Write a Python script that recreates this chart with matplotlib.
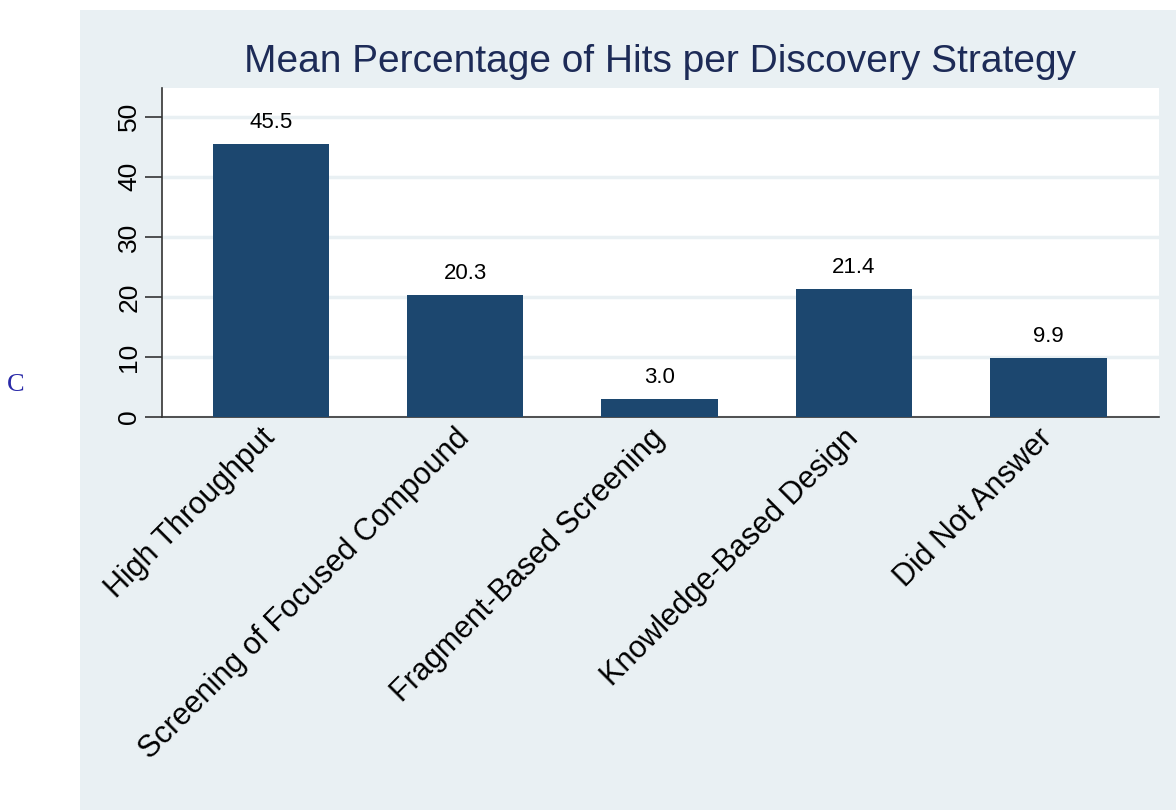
import matplotlib.pyplot as plt
from matplotlib.patches import Rectangle

categories = ["High Throughput", "Screening of Focused Compound",
              "Fragment-Based Screening", "Knowledge-Based Design", "Did Not Answer"]
values = [45.5, 20.3, 3.0, 21.4, 9.9]
yticks = [0, 10, 20, 30, 40, 50]

bar_color = "#1c476f"
panel_color = "#e9f0f3"
title_color = "#1d2b57"

plt.rcParams['font.family'] = ['Liberation Sans', 'DejaVu Sans']

fig = plt.figure(figsize=(11.76, 8.10), dpi=100)
fig.patch.set_facecolor("white")

# light panel behind the plot
fig.patches.append(Rectangle((80 / 1176, 0), 1 - 80 / 1176, 1 - 10 / 810,
                             transform=fig.transFigure, facecolor=panel_color,
                             edgecolor="none", zorder=-10))

ax = fig.add_axes([162 / 1176, 1 - 417 / 810, (1159 - 162) / 1176, (417 - 88) / 810])
ax.set_facecolor("white")

x = list(range(len(categories)))
ax.bar(x, values, width=0.6, color=bar_color, zorder=3)
for xi, v in zip(x, values):
    ax.text(xi, v + 1.8, f"{v:.1f}", ha="center", va="bottom", fontsize=16, color="black")

ax.set_xlim(-0.56, 4.57)
ax.set_ylim(0, 54.8)
ax.set_yticks(yticks)
ax.set_yticklabels([str(t) for t in yticks], rotation=90, va="center", fontsize=19)
ax.tick_params(axis="y", length=12, width=1.2, color="#333333", pad=3)
ax.grid(axis="y", color=panel_color, linewidth=2.5, zorder=1)

ax.set_xticks(x)
ax.set_xticklabels(categories, rotation=45, ha="right", va="center",
                   rotation_mode="anchor", fontsize=22)
ax.tick_params(axis="x", length=0, pad=12)

for side in ["top", "right"]:
    ax.spines[side].set_visible(False)
for side in ["left", "bottom"]:
    ax.spines[side].set_color("#333333")
    ax.spines[side].set_linewidth(1.2)

fig.text((162 + 1159) / 2 / 1176, 1 - 62 / 810,
         "Mean Percentage of Hits per Discovery Strategy",
         ha="center", va="center", fontsize=28, color=title_color)

fig.text(16 / 1176, 1 - 385 / 810, "C", ha="center", va="center",
         fontsize=19, color="#2a2aa8", family="Liberation Serif")

fig.savefig("out.png", dpi=100)
